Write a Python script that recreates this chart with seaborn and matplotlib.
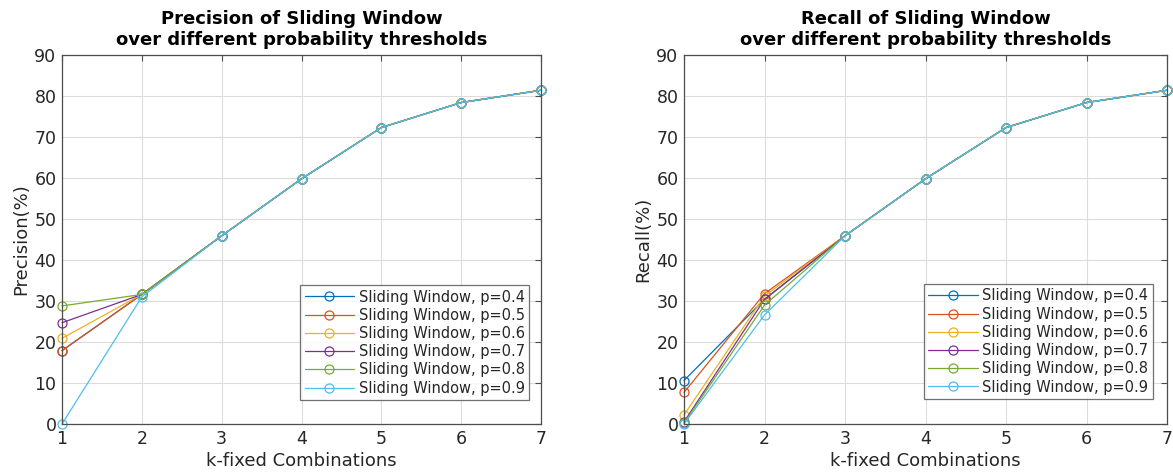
import matplotlib
matplotlib.use("Agg")
import matplotlib.pyplot as plt
import seaborn as sns
import pandas as pd

sns.set_theme(style="white")
plt.rcParams['font.family'] = ['DejaVu Sans']

k_values = [1, 2, 3, 4, 5, 6, 7]
thresholds = ["0.4", "0.5", "0.6", "0.7", "0.8", "0.9"]

precision = {
    "0.4": [17.9, 31.6, 45.9, 59.8, 72.3, 78.4, 81.4],
    "0.5": [17.9, 31.6, 45.9, 59.8, 72.3, 78.4, 81.4],
    "0.6": [20.9, 31.6, 45.9, 59.8, 72.3, 78.4, 81.4],
    "0.7": [24.7, 31.6, 45.9, 59.8, 72.3, 78.4, 81.4],
    "0.8": [28.8, 31.6, 45.9, 59.8, 72.3, 78.4, 81.4],
    "0.9": [0.0, 31.0, 45.9, 59.8, 72.3, 78.4, 81.4],
}
recall = {
    "0.4": [10.6, 30.4, 45.9, 59.8, 72.3, 78.4, 81.4],
    "0.5": [7.7, 31.8, 45.9, 59.8, 72.3, 78.4, 81.4],
    "0.6": [2.2, 31.2, 45.9, 59.8, 72.3, 78.4, 81.4],
    "0.7": [0.5, 30.4, 45.9, 59.8, 72.3, 78.4, 81.4],
    "0.8": [0.2, 29.0, 45.9, 59.8, 72.3, 78.4, 81.4],
    "0.9": [0.0, 26.6, 45.9, 59.8, 72.3, 78.4, 81.4],
}

colors = ["#0072BD", "#D95319", "#EDB120", "#7E2F8E", "#77AC30", "#4DBEEE"]
text_color = "#262626"
axis_color = "#4d4d4d"

fig = plt.figure(figsize=(11.73, 4.75), dpi=100)
ax1 = fig.add_axes([62 / 1173, 51 / 475, 479 / 1173, 369 / 475])
ax2 = fig.add_axes([684 / 1173, 51 / 475, 483 / 1173, 369 / 475])


def draw(ax, series, title, ylabel, legend_anchor):
    for thr, col in zip(thresholds, colors):
        df = pd.DataFrame({"k": k_values, "v": series[thr]})
        sns.lineplot(data=df, x="k", y="v", ax=ax, color=col, marker="o",
                     markersize=6.5, markerfacecolor="none", markeredgecolor=col,
                     markeredgewidth=0.9, linewidth=0.9,
                     label=f"Sliding Window, p={thr}", clip_on=False)
    ax.set_xlim(1, 7)
    ax.set_ylim(0, 90)
    ax.set_xticks(k_values)
    ax.set_yticks(range(0, 91, 10))
    ax.grid(True, color="#dcdcdc", linewidth=0.8)
    ax.set_axisbelow(True)
    for sp in ax.spines.values():
        sp.set_visible(True)
        sp.set_color(axis_color)
        sp.set_linewidth(0.9)
    ax.tick_params(direction="in", length=4, width=0.8, colors=axis_color,
                   labelcolor=text_color, labelsize=12.5, top=True, right=True,
                   pad=4)
    ax.set_xlabel("k-fixed Combinations", fontsize=13, color=text_color, labelpad=3)
    ax.set_ylabel(ylabel, fontsize=13, color=text_color, labelpad=3)
    ax.set_title(title, fontsize=13, fontweight="bold", color="black",
                 linespacing=1.25, pad=7)
    leg = ax.legend(loc="lower right", bbox_to_anchor=legend_anchor,
                    fontsize=10.5, frameon=True, fancybox=False,
                    borderpad=0.3, labelspacing=0.22, handlelength=3.4,
                    handletextpad=0.3, borderaxespad=0.0)
    leg.get_frame().set_edgecolor(axis_color)
    leg.get_frame().set_linewidth(0.9)
    for t in leg.get_texts():
        t.set_color(text_color)


draw(ax1, precision, "Precision of Sliding Window\nover different probability thresholds",
     "Precision(%)", (0.975, 0.065))
draw(ax2, recall, "Recall of Sliding Window\nover different probability thresholds",
     "Recall(%)", (0.97, 0.068))

fig.savefig("out.png", dpi=100)
